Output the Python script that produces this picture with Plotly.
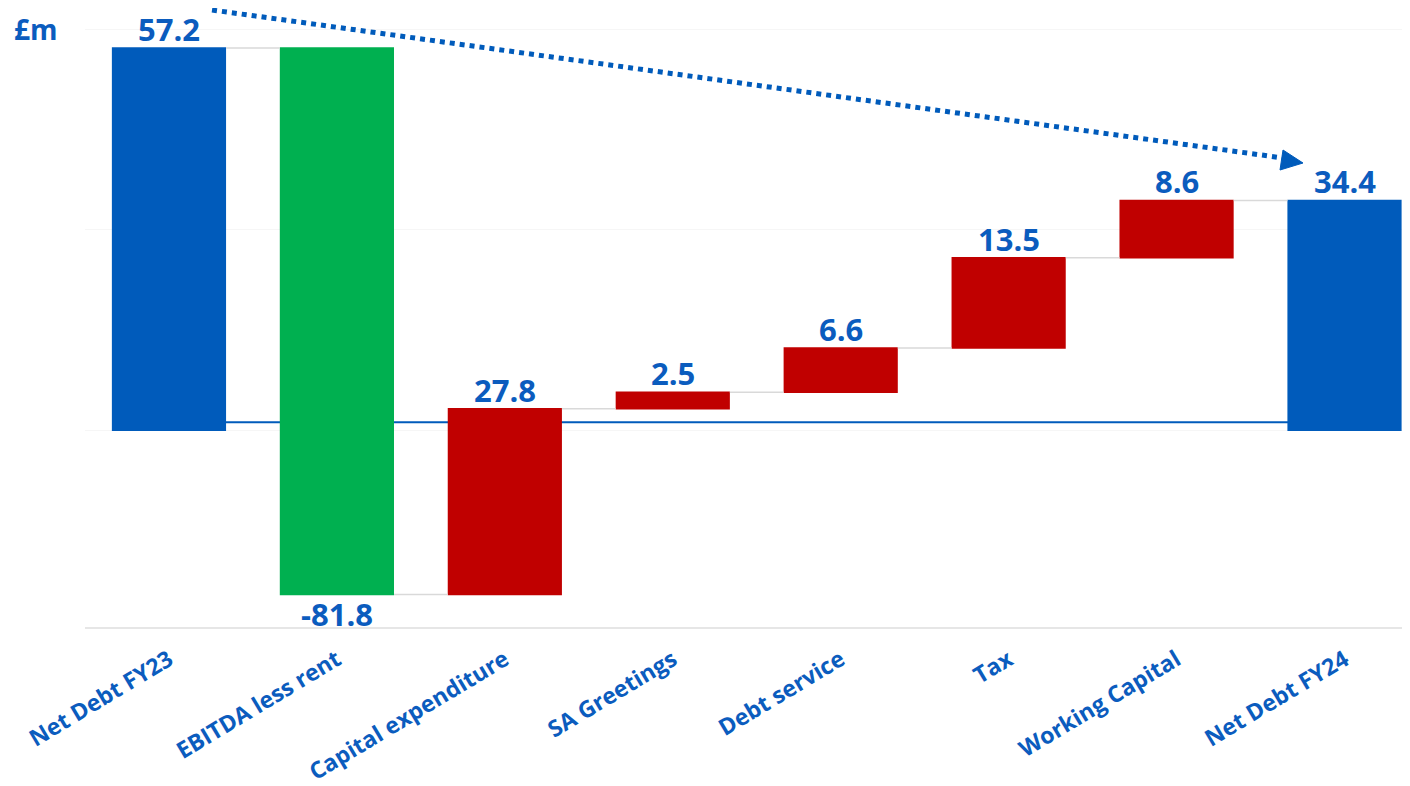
import plotly.graph_objects as go

categories = ["Net Debt FY23", "EBITDA less rent", "Capital expenditure", "SA Greetings",
              "Debt service", "Tax", "Working Capital", "Net Debt FY24"]
values = [57.2, -81.8, 27.8, 2.5, 6.6, 13.5, 8.6, 34.4]
measures = ["absolute", "relative", "relative", "relative", "relative", "relative", "relative", "total"]
labels = ["57.2", "-81.8", "27.8", "2.5", "6.6", "13.5", "8.6", "34.4"]

BLUE = "#005bbb"
TXT = "#0b5cbe"
GREEN = "#00b050"
RED = "#c00000"
FONT = "Open Sans"

fig = go.Figure(go.Waterfall(
    x=categories,
    y=values,
    measure=measures,
    textposition="none",
    increasing=dict(marker=dict(color=RED)),
    decreasing=dict(marker=dict(color=GREEN)),
    totals=dict(marker=dict(color=BLUE)),
    connector=dict(line=dict(color="#d9d9d9", width=1.5)),
    cliponaxis=False,
    hoverinfo="skip",
))

# value labels placed at bar ends, computed from the running total
running = 0.0
for cat, val, meas, lab in zip(categories, values, measures, labels):
    if meas == "absolute":
        start, end = 0.0, val
        running = val
    elif meas == "total":
        start, end = 0.0, running
    else:
        start, end = running, running + val
        running = end
    if val >= 0:
        fig.add_annotation(x=cat, y=max(start, end), text=lab, showarrow=False,
                           yanchor="bottom", yshift=-4,
                           font=dict(family=FONT, size=31, color=TXT, weight="bold"))
    else:
        fig.add_annotation(x=cat, y=min(start, end), text=lab, showarrow=False,
                           yanchor="top", yshift=4,
                           font=dict(family=FONT, size=31, color=TXT, weight="bold"))

# thin blue baseline between the end bars
fig.add_shape(type="line", xref="x", yref="y", x0=0, x1=7, y0=1.2, y1=1.2,
              line=dict(color=BLUE, width=2), layer="below")

# dotted trend arrow (paper coordinates; plot area spans page px 85..1410 x 10..628)
def px2paper(px, py):
    return (px - 85) / 1325, (628 - py) / 618

x0, y0 = px2paper(212, 10)
x1, y1 = px2paper(1283, 158)
fig.add_shape(type="line", xref="paper", yref="paper", x0=x0, y0=y0, x1=x1, y1=y1,
              line=dict(color=BLUE, width=5, dash="dot"))
tip = px2paper(1303, 163)
b1 = px2paper(1283, 150)
b2 = px2paper(1280, 170)
fig.add_shape(type="path", xref="paper", yref="paper",
              path=f"M {tip[0]} {tip[1]} L {b1[0]} {b1[1]} L {b2[0]} {b2[1]} Z",
              fillcolor=BLUE, line=dict(color=BLUE, width=1))

fig.add_annotation(text="£m", xref="paper", yref="paper", x=px2paper(12, 0)[0], y=px2paper(0, 8)[1],
                   xanchor="left", yanchor="top", showarrow=False,
                   font=dict(family=FONT, size=28, color=TXT, weight="bold"))

fig.update_layout(
    width=1410, height=786,
    margin=dict(l=77, r=8, t=2, b=166),
    paper_bgcolor="white", plot_bgcolor="white",
    showlegend=False,
    waterfallgap=0.32,
    xaxis=dict(range=[-0.5, 7.39], tickangle=-31, showline=False, showgrid=False,
               ticklabelstandoff=13,
               tickfont=dict(family=FONT, size=23, color=TXT, weight="bold"), ticks=""),
    yaxis=dict(range=[-29.6, 62.9], showticklabels=False, tickvals=[-30, 0, 30, 60],
               showgrid=True, gridcolor="#f6f6f6", zeroline=False, showline=False),
)
fig.add_shape(type="line", xref="paper", yref="paper", x0=0, x1=1, y0=0, y1=0,
              line=dict(color="#e6e6e6", width=2))

fig.write_html("out.html")
